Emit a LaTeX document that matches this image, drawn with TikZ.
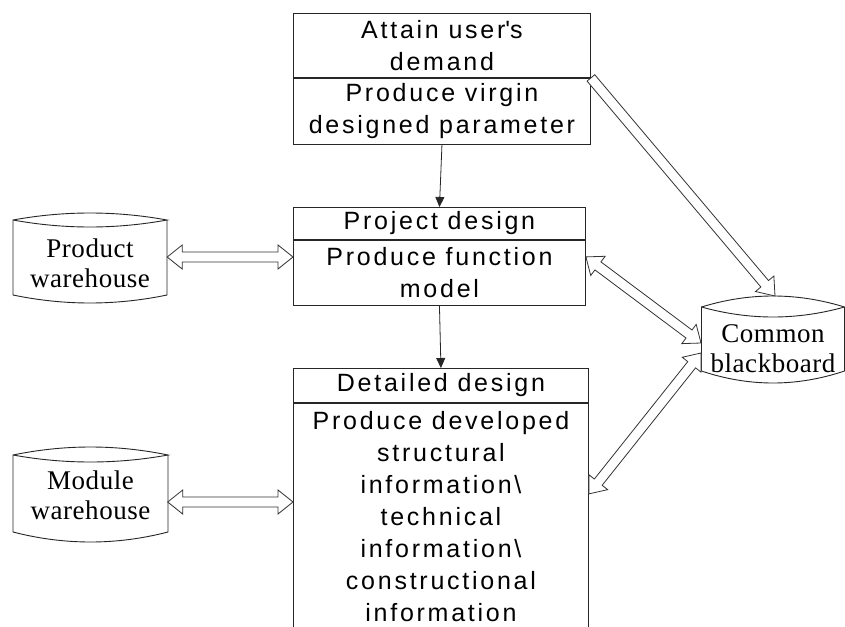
\documentclass[tikz,border=0pt]{standalone}
\usepackage{fontspec}
\setmainfont{Liberation Serif}
\newfontfamily\boxfont{Liberation Sans}[LetterSpace=11.0]
\newfontfamily\drumfont{Liberation Serif}[LetterSpace=2.0]
\usetikzlibrary{calc,arrows.meta}

\tikzset{
  ink/.style={draw=black!85, line width=0.9pt},
  stagebox/.style={ink, inner sep=0pt, align=center,
    font=\boxfont\fontsize{25}{32}\selectfont},
  drumtext/.style={inner sep=0pt, align=center, minimum width=154pt,
    font=\drumfont\fontsize{27}{30}\selectfont},
  flow/.style={draw=black!85, line width=0.8pt, -{Triangle[length=10pt,width=9pt]}},
  hollow/.style={draw=black!80, line width=0.8pt, fill=white, line join=miter},
}

% Drum (storage) outline around a text node.
% #1 node, #2 half width, #3 top corner y, #4 top peak y,
% #5 inner lens y, #6 bottom corner y, #7 bottom middle y (offsets from centre, downwards)
\newcommand{\drum}[7]{%
  \draw[ink]
    ([shift={(-#2,#3)}]#1.center)
      .. controls ([shift={({-(#2)/3},{(4*(#4)-(#3))/3})}]#1.center)
             and ([shift={({(#2)/3},{(4*(#4)-(#3))/3})}]#1.center)
      .. ([shift={(#2,#3)}]#1.center)
      .. controls ([shift={({(#2)/3},{(4*(#5)-(#3))/3})}]#1.center)
             and ([shift={({-(#2)/3},{(4*(#5)-(#3))/3})}]#1.center)
      .. ([shift={(-#2,#3)}]#1.center)
    -- ([shift={(-#2,#6)}]#1.center)
      .. controls ([shift={({-(#2)/3},{(4*(#7)-(#6))/3})}]#1.center)
             and ([shift={({(#2)/3},{(4*(#7)-(#6))/3})}]#1.center)
      .. ([shift={(#2,#6)}]#1.center)
    -- ([shift={(#2,#3)}]#1.center);
}

% Hollow block arrow with one head (at #2)
\newcommand{\sglarrow}[2]{%
  \coordinate (ha) at #1;
  \coordinate (hb) at #2;
  \coordinate (hh) at ($(hb)!16pt!(ha)$);
  \draw[hollow] ($(ha)!5pt!90:(hb)$) -- ($(hh)!5pt!90:(hb)$)
    -- ($(hh)!12pt!90:(hb)$) -- (hb) -- ($(hh)!12pt!-90:(hb)$)
    -- ($(hh)!5pt!-90:(hb)$) -- ($(ha)!5pt!-90:(hb)$) -- cycle;
}

% Hollow block arrow with heads at both ends
\newcommand{\dblarrow}[2]{%
  \coordinate (ha) at #1;
  \coordinate (hb) at #2;
  \coordinate (h1) at ($(ha)!15pt!(hb)$);
  \coordinate (h2) at ($(hb)!15pt!(ha)$);
  \draw[hollow] (ha) -- ($(h1)!12pt!90:(hb)$) -- ($(h1)!5pt!90:(hb)$)
    -- ($(h2)!5pt!90:(hb)$) -- ($(h2)!12pt!90:(hb)$) -- (hb)
    -- ($(h2)!12pt!-90:(hb)$) -- ($(h2)!5pt!-90:(hb)$)
    -- ($(h1)!5pt!-90:(hb)$) -- ($(h1)!12pt!-90:(hb)$) -- cycle;
}

\begin{document}
\begin{tikzpicture}[x=1pt, y=-1pt]
  \fill[white] (0,0) rectangle (845,626);
  \useasboundingbox (0,0) rectangle (845,626);
  \clip (0,0) rectangle (845,626);

  % design stages
  \node[stagebox, anchor=north west, minimum width=297pt, minimum height=64pt]
    (b1top) at (293,13) {Attain user\textquotesingle s\\demand};
  \node[stagebox, anchor=north, minimum width=297pt, minimum height=66pt]
    (b1bot) at (b1top.south) {Produce virgin\\designed parameter};

  \node[stagebox, anchor=north west, minimum width=292pt, minimum height=32pt]
    (b2top) at (293,207) {Project design};
  \node[stagebox, anchor=north, minimum width=292pt, minimum height=65pt]
    (b2bot) at (b2top.south) {Produce function\\model};

  \node[stagebox, anchor=north west, minimum width=295pt, minimum height=34pt]
    (b3top) at (293,368) {Detailed design};
  % long stage box: it runs on past the lower edge of the picture
  \node[stagebox, anchor=north, minimum width=295pt, inner ysep=8pt,
        text depth=40pt, font=\boxfont\fontsize{25}{32}\selectfont]
    (b3bot) at (b3top.south)
    {Produce developed\\structural\\information\textbackslash\\technical\\
     information\textbackslash\\constructional\\information};

  % stores
  \node[drumtext] (pw) at (90,263) {Product\\warehouse};
  \drum{pw}{77}{-43}{-50}{-36}{32}{40}
  \node[drumtext] (mw) at (90.5,495) {Module\\warehouse};
  \drum{mw}{77.5}{-40}{-48}{-33}{37}{47}
  \node[drumtext] (bb) at (773,349) {Common\\blackboard};
  \drum{bb}{71.5}{-42}{-53}{-32}{22}{34}

  % sequence of stages
  \draw[flow] (b1bot.south) -- (b2top.north);
  \draw[flow] (b2bot.south) -- (b3top.north);

  % data exchange
  \coordinate (pwE) at ([yshift=6pt]pw.east);
  \dblarrow{(pwE)}{(pwE -| b2bot.west)}
  \coordinate (mwE) at ([yshift=-7pt]mw.east);
  \dblarrow{(mwE)}{(mwE -| b3bot.west)}
  \sglarrow{(b1top.south east)}{([shift={(2,-53)}]bb.center)}
  \dblarrow{([shift={(0,17)}]b2bot.north east)}{([shift={(-72,-6)}]bb.center)}
  \dblarrow{([shift={(-72,4)}]bb.center)}{([shift={(0,91)}]b3bot.north east)}
\end{tikzpicture}
\end{document}
